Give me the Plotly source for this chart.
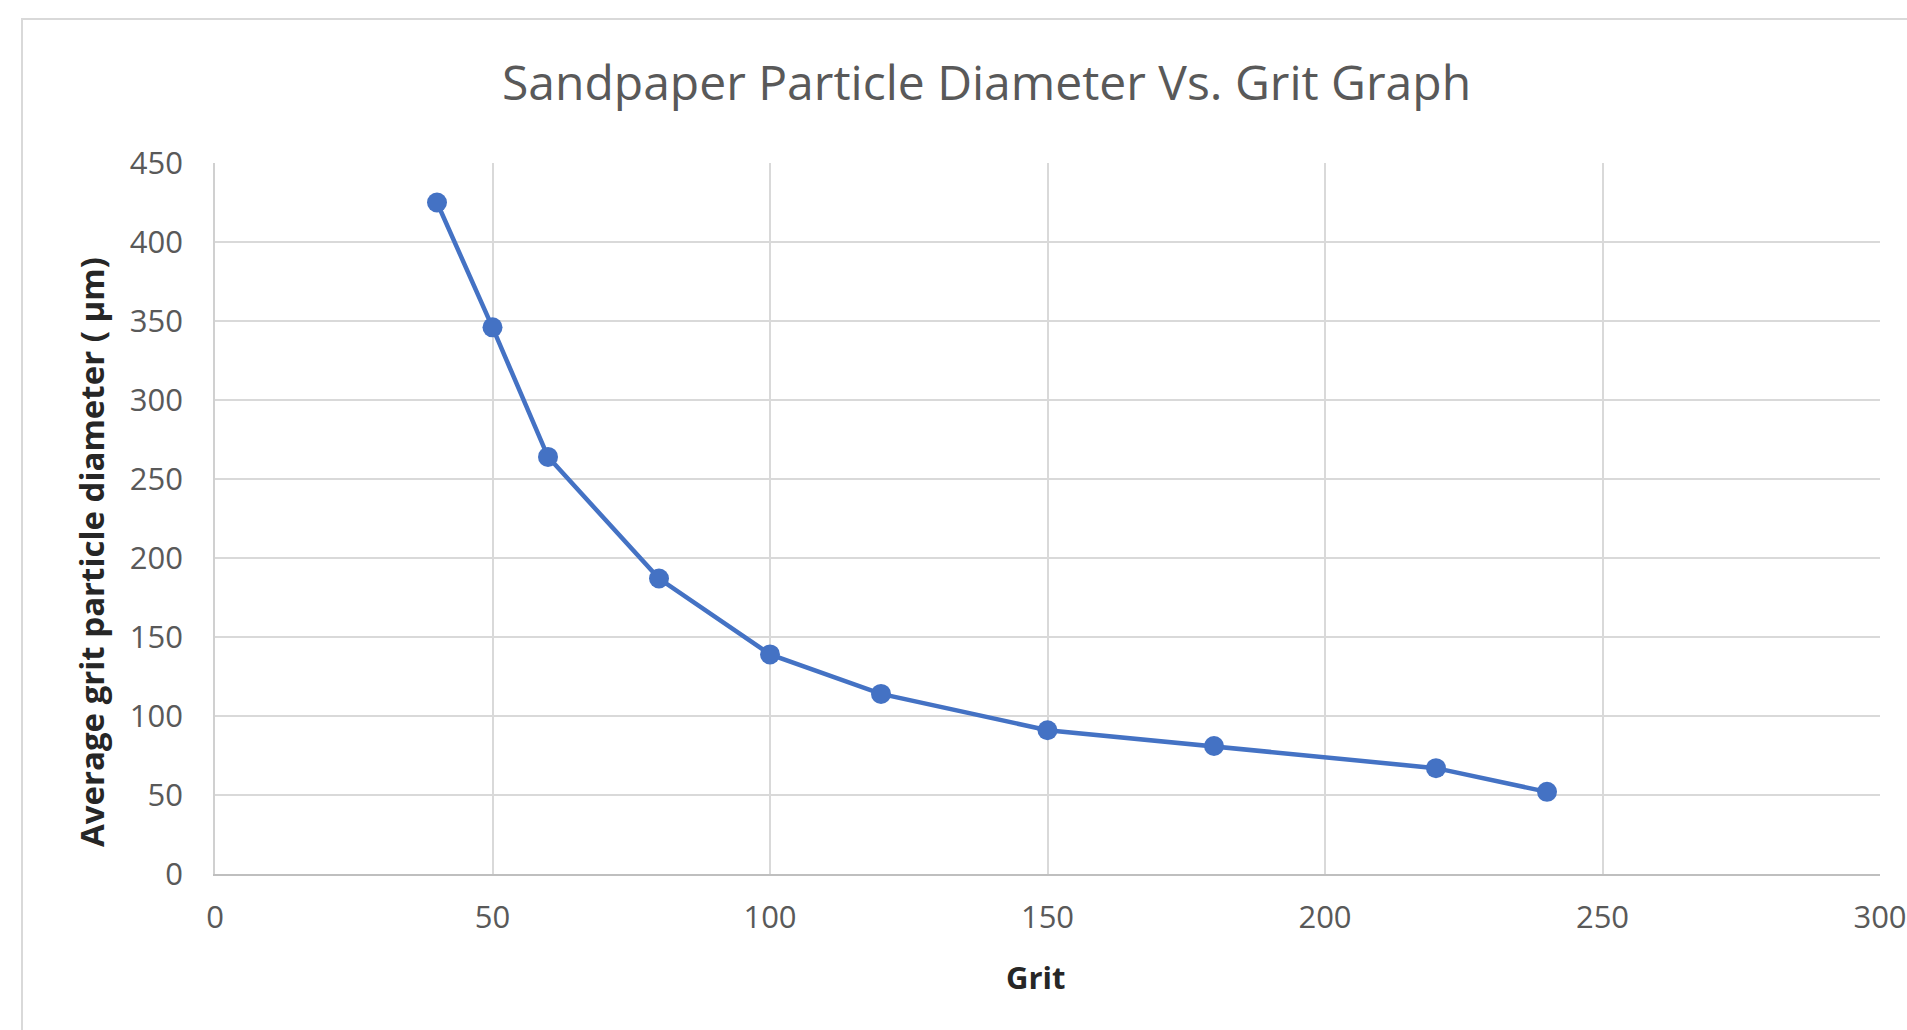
import plotly.graph_objects as go

grit = [40, 50, 60, 80, 100, 120, 150, 180, 220, 240]
diameter_um = [425, 346, 264, 187, 139, 114, 91, 81, 67, 52]

x_ticks = [0, 50, 100, 150, 200, 250, 300]
y_ticks = [0, 50, 100, 150, 200, 250, 300, 350, 400, 450]

title_text = "Sandpaper Particle Diameter Vs. Grit Graph"
x_title = "Grit"
y_title = "Average grit particle diameter ( µm)"

W, H = 1907, 1030
L, R, T, B = 215, 27, 163, 156

FONT = "Open Sans, Lato, sans-serif"

fig = go.Figure()
fig.add_trace(go.Scatter(
    x=grit, y=diameter_um, mode="lines+markers",
    line=dict(color="#4472C4", width=4.5),
    marker=dict(color="#4472C4", size=20),
    showlegend=False,
))

tick_font = dict(family=FONT, size=31, color="#595959")

fig.update_layout(
    width=W, height=H,
    margin=dict(l=L, r=R, t=T, b=B, pad=0, autoexpand=False),
    paper_bgcolor="white", plot_bgcolor="white",
    xaxis=dict(range=[0, 300], tickvals=x_ticks, showgrid=True, gridcolor="#d9d9d9",
               gridwidth=1.5, zeroline=False, showline=True, linecolor="#bfbfbf",
               linewidth=2, ticks="", tickfont=tick_font, ticklabelstandoff=15,
               automargin=False, ticklabeloverflow="allow", fixedrange=True),
    yaxis=dict(range=[0, 450], tickvals=y_ticks, showgrid=True, gridcolor="#d9d9d9",
               gridwidth=1.5, zeroline=False, showline=True, linecolor="#d0d0d0",
               linewidth=1.5, ticks="", tickfont=tick_font, ticklabelstandoff=24,
               automargin=False, fixedrange=True),
    shapes=[
        dict(type="rect", xref="paper", yref="paper",
             x0=(22 - L) / (W - L - R), x1=(W + 20 - L) / (W - L - R),
             y0=-(B + 20) / (H - T - B), y1=1 + (T - 19) / (H - T - B),
             line=dict(color="#d9d9d9", width=2), fillcolor="rgba(0,0,0,0)", layer="below"),
    ],
    annotations=[
        dict(text=title_text, xref="paper", yref="paper",
             x=(986 - L) / (W - L - R), y=1 + (T - 81) / (H - T - B),
             xanchor="center", yanchor="middle", showarrow=False,
             font=dict(family=FONT, size=48, color="#595959")),
        dict(text="<b>" + x_title + "</b>", xref="paper", yref="paper",
             x=(1035 - L) / (W - L - R), y=-(977 - (H - B)) / (H - T - B),
             xanchor="center", yanchor="middle", showarrow=False,
             font=dict(family=FONT, size=31, color="#262626")),
        dict(text="<b>" + y_title + "</b>", xref="paper", yref="paper",
             x=-(L - 91) / (W - L - R), y=1 - (552 - T) / (H - T - B),
             xanchor="center", yanchor="middle", showarrow=False, textangle=-90,
             font=dict(family=FONT, size=33, color="#262626")),
    ],
)

fig.write_html("out.html")
